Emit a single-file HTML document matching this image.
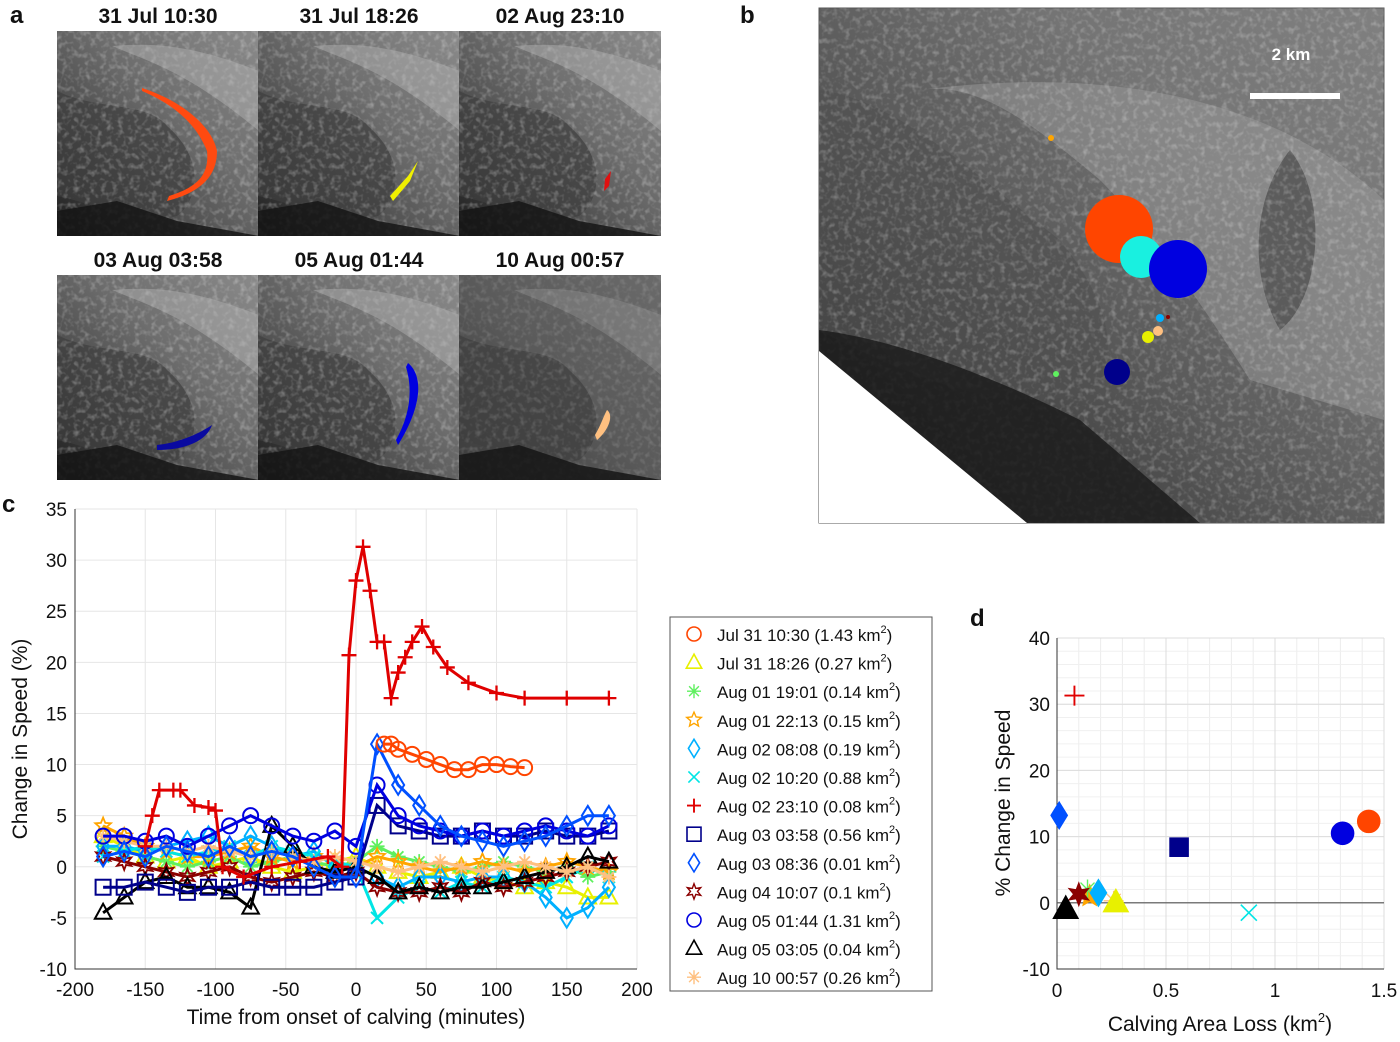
<!DOCTYPE html>
<html><head><meta charset="utf-8"><style>
html,body{margin:0;padding:0;background:#fff;}
svg{display:block;font-family:"Liberation Sans",Arial,sans-serif;}
</style></head><body>
<svg id="fig" width="1400" height="1042" viewBox="0 0 1400 1042" xmlns="http://www.w3.org/2000/svg">
<defs>
<linearGradient id="imgA" x1="0" y1="1" x2="1" y2="0">
<stop offset="0" stop-color="#1e1e1e"/><stop offset="0.35" stop-color="#505050"/><stop offset="0.6" stop-color="#6e6e6e"/><stop offset="1" stop-color="#8a8a8a"/></linearGradient>
<linearGradient id="imgB" x1="0" y1="1" x2="1" y2="0">
<stop offset="0" stop-color="#222"/><stop offset="0.4" stop-color="#555"/><stop offset="0.7" stop-color="#747474"/><stop offset="1" stop-color="#808080"/></linearGradient>
<linearGradient id="imgC" x1="0" y1="1" x2="1" y2="0">
<stop offset="0" stop-color="#3a3a3a"/><stop offset="0.5" stop-color="#5a5a5a"/><stop offset="1" stop-color="#6a6a6a"/></linearGradient>
<filter id="noise" x="0" y="0" width="100%" height="100%">
<feTurbulence type="fractalNoise" baseFrequency="0.18" numOctaves="2" seed="3"/>
<feColorMatrix type="matrix" values="0 0 0 0 1  0 0 0 0 1  0 0 0 0 1  0 0 0 1.6 -0.75"/>
</filter>
</defs>
<g id="panelA"></g>
<g id="panelB"></g>
<g id="panelC"></g>
<g id="panelD"></g>
</svg>
<script>
// ---- Panel c data ----
const gridTimes = [-180,-165,-150,-135,-120,-105,-90,-75,-60,-45,-30,-15,0,15,30,45,60,75,90,105,120,135,150,165,180];
const sBlueCircle = [3,3,2.5,3,2,3,4,5,4,3,2.5,3.5,2,8,5,4,3.5,3,3.5,3,3.5,4,3.5,3,4];
const sNavySquare = [-2,-2,-1.5,-2,-2.5,-2,-2,-1.5,-2,-2,-2,-1.5,-1,6,4,3.5,3,3,3.5,3,3,3.5,3,3,3.5];
const sBlueDiamond = [1,1.5,1,2,1.5,1,2,1,1.5,1,0,-1,-1,12,8,6,4,3,2.5,2,2.5,3,4,5,5];
const sCyanDiamond = [2,2,1.5,2,2.5,3,2,3,2,1,1.5,0,0,-1,-2,-1,-1,-1.5,-1,-1,-1.5,-3,-5,-4,-2];
const sBlackTri = [-4.5,-3,-1.5,-1,-2,-2,-2.5,-4,4,2,0,-0.5,0,-1,-2.5,-2,-2.5,-2,-2,-1.5,-1,-0.5,0,1,0.5];
const sYellowTri = [3,2,1,0.5,1,0,0.5,1,0,-0.5,0,0.5,1,0,-0.5,-1,-0.5,0,-1,-1.5,-2,-1.5,-2,-3,-3];
const sGreenStar = [2,1.5,1,0.5,0,0.5,1,0,0.5,1,0.5,0,0.5,2,1,0.5,0,-0.5,0,0.5,0,-0.5,0,-1,-0.5];
const sOrangeStar = [4,3,2,1.5,1,1,1.5,2,1,0.5,1,0.5,0,1,0.5,0,-0.5,0,0.5,0,-0.5,0,0.5,0,-0.5];
const sDarkRedHex = [1,0.5,0,-0.5,-1,-0.5,0,-1,-1.5,-1,-0.5,-1,-0.5,-2,-2.5,-2.5,-2,-2.5,-1.5,-2,-1.5,-1,-0.5,0,0.5];
const sCyanX = [1,1.5,2,1.5,1,1.5,2,1,2,1.5,1,0.5,0,-5,-3,-2,-2.5,-1.5,-2,-1,-1.5,-2,-1,0,-1];
const sPeach = [3,2.5,2,2,1.5,2,1.5,1,1.5,1,0.5,1,0.5,0,-0.5,0,0.5,0,-0.5,0,0.5,0,-0.5,0,-1];
const orangeTimes = [20,25,30,40,50,60,70,80,90,100,110,120];
const sOrangeCircle = [12,12,11.5,11,10.5,10,9.5,9.5,10,10,9.8,9.7];
const redTimes = [-150,-145,-140,-130,-125,-115,-105,-100,-95,-80,-60,-40,-20,-10,-5,0,5,10,15,20,25,30,35,40,47,55,65,80,100,120,150,180];
const sRedPlus = [2,5,7.5,7.5,7.5,6,5.8,5.5,0,-1,0,0.5,1,0,20.7,28,31.3,27,22,22,16.5,19,20.5,22,23.5,21.5,19.5,18,17,16.5,16.5,16.5];
const xTicksC = [-200,-150,-100,-50,0,50,100,150,200];
const yTicksC = [35,30,25,20,15,10,5,0,-5,-10];
// ---- Legend / panel d data ----
const legendLabels = ["Jul 31 10:30","Jul 31 18:26","Aug 01 19:01","Aug 01 22:13","Aug 02 08:08","Aug 02 10:20","Aug 02 23:10","Aug 03 03:58","Aug 03 08:36","Aug 04 10:07","Aug 05 01:44","Aug 05 03:05","Aug 10 00:57"];
const legendAreas = ["1.43","0.27","0.14","0.15","0.19","0.88","0.08","0.56","0.01","0.1","1.31","0.04","0.26"];
const dArea = [1.43,0.27,0.14,0.15,0.19,0.88,0.08,0.56,0.01,0.1,1.31,0.04,0.26];
const dChange = [12.3,0,2,1,1.5,-1.5,31.3,8.4,13.2,1.3,10.5,-1,0.3];
const xTicksD = [0,0.5,1,1.5];
const yTicksD = [40,30,20,10,0,-10];

const NS="http://www.w3.org/2000/svg";
function mk(tag,parent,attrs){const e=document.createElementNS(NS,tag);for(const k in attrs)e.setAttribute(k,attrs[k]);parent.appendChild(e);return e;}
function txt(parent,x,y,s,size,anchor,weight,fill){const t=mk('text',parent,{x:x,y:y,'font-size':size,'text-anchor':anchor||'middle','font-weight':weight||'normal',fill:fill||'#111'});t.textContent=s;return t;}

const styles=[
 {c:'#ff4500',m:'o'},{c:'#e8f000',m:'^'},{c:'#5ff05f',m:'*'},{c:'#ffa500',m:'p'},
 {c:'#00b0ff',m:'d'},{c:'#00e5e5',m:'x'},{c:'#e00000',m:'+'},{c:'#00008b',m:'s'},
 {c:'#0050ff',m:'d'},{c:'#8b0000',m:'h'},{c:'#0000e0',m:'o'},{c:'#000000',m:'^'},{c:'#ffc080',m:'*'}];

function marker(g,type,x,y,r,color,fill,sw){
 const f=fill?color:'none';sw=sw||1.6;let e;
 if(type==='o') e=mk('circle',g,{cx:x,cy:y,r:r,fill:f,stroke:color,'stroke-width':sw});
 else if(type==='s') e=mk('rect',g,{x:x-r,y:y-r,width:2*r,height:2*r,fill:f,stroke:color,'stroke-width':sw});
 else if(type==='^') e=mk('polygon',g,{points:`${x},${y-r*1.2} ${x-r*1.1},${y+r*0.8} ${x+r*1.1},${y+r*0.8}`,fill:f,stroke:color,'stroke-width':sw});
 else if(type==='d') e=mk('polygon',g,{points:`${x},${y-r*1.3} ${x+r*0.8},${y} ${x},${y+r*1.3} ${x-r*0.8},${y}`,fill:f,stroke:color,'stroke-width':sw});
 else if(type==='+') e=mk('path',g,{d:`M${x-r} ${y}H${x+r}M${x} ${y-r}V${y+r}`,stroke:color,'stroke-width':sw+0.3,fill:'none'});
 else if(type==='x') e=mk('path',g,{d:`M${x-r*.8} ${y-r*.8}L${x+r*.8} ${y+r*.8}M${x-r*.8} ${y+r*.8}L${x+r*.8} ${y-r*.8}`,stroke:color,'stroke-width':sw,fill:'none'});
 else if(type==='*') e=mk('path',g,{d:`M${x-r} ${y}H${x+r}M${x} ${y-r}V${y+r}M${x-r*.7} ${y-r*.7}L${x+r*.7} ${y+r*.7}M${x-r*.7} ${y+r*.7}L${x+r*.7} ${y-r*.7}`,stroke:color,'stroke-width':sw-0.2,fill:'none'});
 else {
  const n=type==='p'?5:6;let pts=[];for(let i=0;i<2*n;i++){const a=-Math.PI/2+i*Math.PI/n;const rr=i%2?r*0.5:r*1.1;pts.push((x+rr*Math.cos(a)).toFixed(1)+','+(y+rr*Math.sin(a)).toFixed(1));}
  e=mk('polygon',g,{points:pts.join(' '),fill:f,stroke:color,'stroke-width':sw-0.2});
 }
 return e;
}

// ---- Panel a ----
const A=document.getElementById('panelA');
const lblA=txt(A,10,23,'a',24,'start','bold');


const titles=["31 Jul 10:30","31 Jul 18:26","02 Aug 23:10","03 Aug 03:58","05 Aug 01:44","10 Aug 00:57"];
const shapes=[
 {d:'M85 57 C125 70 155 95 160 120 C160 140 150 160 110 170 L112 165 C145 155 152 140 150 120 C140 95 120 75 85 60Z',c:'#ff4a10'},
 {d:'M160 130 L152 150 L135 170 L132 165 L150 145Z',c:'#f0f000'},
 {d:'M152 140 L150 155 L145 160 L146 148Z',c:'#e01010'},
 {d:'M100 170 C120 168 140 160 155 150 C150 165 130 175 100 175Z',c:'#0a0aa0'},
 {d:'M150 88 C165 100 165 130 140 170 L138 165 C152 140 155 115 148 92Z',c:'#0000e0'},
 {d:'M148 135 C155 140 150 155 138 165 L136 160 C142 150 145 140 148 135Z',c:'#ffc080'}];
for(let i=0;i<6;i++){
 const col=i%3,row=Math.floor(i/3);
 const x=57+col*201,y=31+row*244;
 const g=mk('g',A,{transform:`translate(${x},${y})`});
 
 
 mk('rect',g,{x:0,y:0,width:202,height:205,fill:i===5?'url(#imgC)':'url(#imgA)'});
 mk('path',g,{d:'M0 60 C40 80 90 70 110 95 C150 130 140 170 120 185 C80 195 30 170 0 165Z',fill:'#3e3e3e',opacity:0.7});
 mk('rect',g,{x:0,y:0,width:202,height:205,filter:'url(#noise)',opacity:i===5?0.25:0.45});
 mk('path',g,{d:'M0 180 L60 170 L120 190 L202 205 L0 205Z',fill:'#151515',opacity:0.85});
 mk('path',g,{d:'M55 15 C90 30 130 40 202 100 L202 40 C150 20 110 10 55 15Z',fill:'#b5b5b5',opacity:i===5?0.25:0.45});
 mk('path',g,{d:shapes[i].d,fill:shapes[i].c});
 const t=txt(A,x+101,y-8,titles[i],21,'middle','bold');
 
 
}

// ---- Panel b ----
const B=document.getElementById('panelB');
const lblB=txt(B,740,23,'b',24,'start','bold');


const bimg=mk('g',B,{});


mk('rect',bimg,{x:819,y:8,width:565,height:515,fill:'url(#imgB)',stroke:'#555'});
mk('path',bimg,{d:'M819 90 C900 100 980 180 1060 240 C1100 290 1120 340 1100 380 C1050 420 950 400 819 330Z',fill:'#505050',opacity:0.6});
mk('path',bimg,{d:'M920 90 C980 80 1040 130 1100 180 C1150 230 1200 300 1250 380 L1384 420 L1384 200 C1300 120 1150 60 920 90Z',fill:'#a0a0a0',opacity:0.45});
mk('path',bimg,{d:'M1290 150 C1330 200 1320 300 1280 330 C1250 280 1250 200 1290 150Z',fill:'#4a4a4a',opacity:0.7});
mk('rect',bimg,{x:819,y:8,width:565,height:515,filter:'url(#noise)',opacity:0.4});
mk('path',bimg,{d:'M819 330 C900 340 1000 380 1080 420 L1200 523 L819 523Z',fill:'#1c1c1c',opacity:0.85});
mk('path',bimg,{d:'M819 351 L1027 523 L819 523Z',fill:'#fff'});
const bubbles=[[1119,229,34,'#ff4500'],[1141,257,21,'#19f0e0'],[1178,269,29,'#0000e0'],[1117,372,13,'#00008b'],[1051,138,3,'#ffa500'],[1160,318,4,'#00b0ff'],[1148,337,6,'#e8f000'],[1158,331,5,'#ffc080'],[1168,317,2,'#8b0000'],[1056,374,3,'#5ff05f']];
bubbles.forEach((b,i)=>{const c=mk('circle',B,{cx:b[0],cy:b[1],r:b[2],fill:b[3]});
 
 });
const sb=mk('rect',B,{x:1250,y:93,width:90,height:6,fill:'#fff'});


const sbt=txt(B,1291,60,'2 km',17,'middle','bold','#fff');



// ---- Panel c ----
const C=document.getElementById('panelC');
const cx0=75,cx1=637,cy0=509,cy1=969;
const xC=v=>cx0+(v+200)/400*(cx1-cx0);
const yC=v=>cy1-(v+10)/45*(cy1-cy0);
const lblC=txt(C,2,512,'c',24,'start','bold');


xTicksC.forEach(v=>{mk('line',C,{x1:xC(v),x2:xC(v),y1:cy0,y2:cy1,stroke:'#e6e6e6'});
 const t=txt(C,xC(v),996,String(v),19);});
yTicksC.forEach(v=>{mk('line',C,{x1:cx0,x2:cx1,y1:yC(v),y2:yC(v),stroke:'#e6e6e6'});
 const t=txt(C,67,yC(v)+7,String(v),19,'end');});
mk('path',C,{d:`M${cx0} ${cy0}V${cy1}H${cx1}`,stroke:'#333',fill:'none'});
const xl=txt(C,356,1024,'Time from onset of calving (minutes)',21);

const yl=txt(C,0,0,'Change in Speed (%)',21);
yl.setAttribute('transform','translate(27,739) rotate(-90)');

function series(idx,times,vals,name){
 const s=styles[idx];const g=mk('g',C,{});
 
 mk('polyline',g,{points:times.map((t,i)=>xC(t).toFixed(1)+','+yC(vals[i]).toFixed(1)).join(' '),fill:'none',stroke:s.c,'stroke-width':3});
 times.forEach((t,i)=>{const m=marker(g,s.m,xC(t),yC(vals[i]),7.5,s.c,false,2);
  });
}
series(1,gridTimes,sYellowTri,'series-jul31-1826');
series(2,gridTimes,sGreenStar,'series-aug01-1901');
series(3,gridTimes,sOrangeStar,'series-aug01-2213');
series(4,gridTimes,sCyanDiamond,'series-aug02-0808');
series(5,gridTimes,sCyanX,'series-aug02-1020');
series(9,gridTimes,sDarkRedHex,'series-aug04-1007');
series(11,gridTimes,sBlackTri,'series-aug05-0305');
series(12,gridTimes,sPeach,'series-aug10-0057');
series(7,gridTimes,sNavySquare,'series-aug03-0358');
series(10,gridTimes,sBlueCircle,'series-aug05-0144');
series(8,gridTimes,sBlueDiamond,'series-aug03-0836');
series(0,orangeTimes,sOrangeCircle,'series-jul31-1030');
series(6,redTimes,sRedPlus,'series-aug02-2310');

// legend
const L=mk('g',C,{});

mk('rect',L,{x:670,y:617,width:262,height:374,fill:'#fff',stroke:'#555'});
legendLabels.forEach((lab,i)=>{
 const y=634+i*28.6;const s=styles[i];
 const g=mk('g',L,{});
 marker(g,s.m,694,y,7,s.c,false);
 const t=mk('text',g,{x:717,y:y+7,'font-size':17,fill:'#111'});
 t.setAttribute('xml:space','preserve');
 t.innerHTML=lab+'  ('+legendAreas[i]+' km<tspan font-size="11" dy="-8">2</tspan><tspan dy="8">)</tspan>';
});

// ---- Panel d ----
const D=document.getElementById('panelD');
const dx0=1057,dx1=1384,dy0=638,dy1=969;
const xD=v=>dx0+v/1.5*(dx1-dx0);
const yD=v=>dy1-(v+10)/50*(dy1-dy0);
const lblD=txt(D,970,626,'d',24,'start','bold');

for(let v=0;v<=1.5001;v+=0.1)mk('line',D,{x1:xD(v),x2:xD(v),y1:dy0,y2:dy1,stroke:'#ececec'});
for(let v=-10;v<=40;v+=2)mk('line',D,{x1:dx0,x2:dx1,y1:yD(v),y2:yD(v),stroke:'#f0f0f0'});
xTicksD.forEach(v=>{mk('line',D,{x1:xD(v),x2:xD(v),y1:dy0,y2:dy1,stroke:'#dcdcdc'});
 const t=txt(D,xD(v),997,String(v),19);});
yTicksD.forEach(v=>{mk('line',D,{x1:dx0,x2:dx1,y1:yD(v),y2:yD(v),stroke:'#dcdcdc'});
 const t=txt(D,1050,yD(v)+7,String(v),19,'end');});
mk('path',D,{d:`M${dx0} ${dy0}V${dy1}H${dx1}`,stroke:'#333',fill:'none'});
mk('line',D,{x1:xD(0),x2:xD(1.5),y1:yD(0),y2:yD(0),stroke:'#555','stroke-width':1.2});
const dxl=mk('text',D,{x:1220,y:1031,'font-size':21,'text-anchor':'middle',fill:'#111'});
dxl.innerHTML='Calving Area Loss (km<tspan font-size="13" dy="-9">2</tspan><tspan dy="9">)</tspan>';

const dyl=txt(D,0,0,'% Change in Speed',21);
dyl.setAttribute('transform','translate(1010,803) rotate(-90)');

const order=[12,1,3,2,4,9,11,7,10,0,8,5,6];
order.forEach(i=>{const s=styles[i];const open=(s.m==='+'||s.m==='x'||s.m==='*');
 const m=marker(D,s.m,xD(dArea[i]),yD(dChange[i]),s.m==='o'?11:(s.m==='+'||s.m==='x')?10:s.m==='^'?11:s.m==='s'?9:10,s.c,!open);
 });
</script>
</body></html>
